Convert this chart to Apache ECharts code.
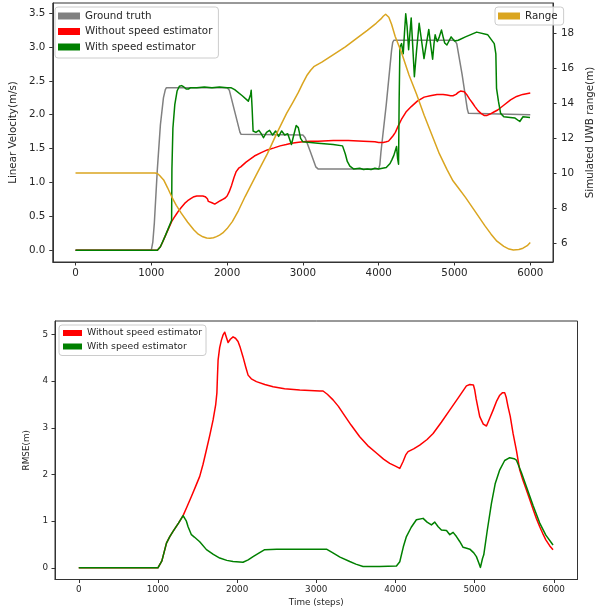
<!DOCTYPE html>
<html>
<head>
<meta charset="utf-8">
<script src="https://cdn.jsdelivr.net/npm/echarts@6/dist/echarts.min.js"></script>
<style>html,body{margin:0;padding:0;background:#fff}#c{width:603px;height:612px}</style>
</head>
<body>
<div id="c"></div>
<script>
// ---------- data ----------
const xTicks = [0, 1000, 2000, 3000, 4000, 5000, 6000];
const velTicks = [0, 0.5, 1, 1.5, 2, 2.5, 3, 3.5];
const rangeTicks = [6, 8, 10, 12, 14, 16, 18];
const rmseTicks = [0, 1, 2, 3, 4, 5];

// Top panel: linear velocity
const gtSteps = [0, 1000, 1020, 1040, 1080, 1120, 1160, 1185, 1200, 2000, 2015, 2030, 2100, 2170, 2185, 2200, 3000, 3015, 3030, 3100, 3170, 3185, 3200, 4000, 4015, 4030, 4100, 4170, 4185, 4200, 5000, 5015, 5030, 5100, 5170, 5185, 5200, 6000];
const gtVals  = [0, 0, 0.12, 0.4, 1.2, 1.85, 2.25, 2.37, 2.4, 2.4, 2.39, 2.36, 2.05, 1.74, 1.71, 1.7, 1.7, 1.69, 1.66, 1.45, 1.23, 1.21, 1.2, 1.2, 1.26, 1.45, 2.15, 2.95, 3.07, 3.1, 3.1, 3.09, 3.05, 2.6, 2.08, 2.02, 2.0, 2.0];

const noEstSteps = [0, 1080, 1100, 1120, 1150, 1180, 1220, 1268, 1300, 1330, 1360, 1395, 1440, 1480, 1520, 1563, 1600, 1640, 1680, 1711, 1730, 1740, 1753, 1770, 1800, 1837, 1860, 1879, 1910, 1943, 1975, 2000, 2027, 2060, 2090, 2120, 2153, 2180, 2200, 2250, 2300, 2360, 2450, 2530, 2620, 2700, 2780, 2850, 2920, 3000, 3100, 3200, 3400, 3600, 3800, 3950, 4000, 4060, 4100, 4130, 4160, 4190, 4220, 4260, 4300, 4360, 4430, 4510, 4600, 4680, 4770, 4850, 4900, 4950, 4980, 5020, 5050, 5080, 5100, 5130, 5160, 5200, 5240, 5270, 5310, 5350, 5390, 5430, 5470, 5520, 5570, 5650, 5740, 5820, 5900, 5950, 6000];
const noEstVals  = [0, 0, 0.02, 0.05, 0.12, 0.2, 0.3, 0.42, 0.48, 0.53, 0.58, 0.63, 0.69, 0.73, 0.76, 0.79, 0.8, 0.8, 0.8, 0.79, 0.78, 0.76, 0.72, 0.7, 0.7, 0.68, 0.69, 0.71, 0.73, 0.75, 0.77, 0.8, 0.86, 0.96, 1.07, 1.16, 1.21, 1.23, 1.25, 1.3, 1.34, 1.39, 1.44, 1.48, 1.51, 1.54, 1.56, 1.58, 1.59, 1.6, 1.61, 1.61, 1.62, 1.62, 1.61, 1.6, 1.59, 1.59, 1.6, 1.61, 1.65, 1.69, 1.74, 1.84, 1.93, 2.04, 2.12, 2.2, 2.26, 2.28, 2.3, 2.3, 2.29, 2.28, 2.28, 2.3, 2.33, 2.35, 2.35, 2.34, 2.3, 2.23, 2.17, 2.12, 2.06, 2.02, 1.99, 1.99, 2.01, 2.04, 2.07, 2.14, 2.22, 2.27, 2.3, 2.31, 2.32];

const withEstSteps = [0, 1080, 1120, 1180, 1268, 1272, 1285, 1310, 1340, 1370, 1400, 1430, 1460, 1490, 1520, 1600, 1700, 1800, 1900, 2000, 2050, 2100, 2200, 2280, 2300, 2310, 2318, 2330, 2343, 2380, 2420, 2450, 2480, 2520, 2560, 2600, 2640, 2680, 2720, 2760, 2800, 2849, 2880, 2912, 2940, 2970, 3000, 3200, 3400, 3523, 3560, 3586, 3620, 3668, 3750, 3800, 3850, 3900, 3950, 4000, 4050, 4100, 4150, 4172, 4200, 4236, 4250, 4262, 4270, 4280, 4302, 4324, 4340, 4357, 4375, 4395, 4412, 4429, 4450, 4471, 4500, 4534, 4565, 4598, 4630, 4661, 4690, 4712, 4730, 4745, 4760, 4775, 4800, 4829, 4850, 4871, 4900, 4956, 5000, 5050, 5145, 5293, 5440, 5525, 5546, 5555, 5580, 5609, 5651, 5736, 5799, 5862, 5904, 5997];
const withEstVals  = [0, 0, 0.05, 0.2, 0.44, 1.2, 1.8, 2.15, 2.35, 2.42, 2.43, 2.41, 2.38, 2.38, 2.4, 2.4, 2.41, 2.4, 2.41, 2.4, 2.4, 2.37, 2.28, 2.2, 2.19, 2.3, 2.36, 2.1, 1.76, 1.74, 1.77, 1.72, 1.66, 1.74, 1.77, 1.7, 1.76, 1.68, 1.76, 1.7, 1.72, 1.56, 1.7, 1.84, 1.81, 1.65, 1.6, 1.58, 1.56, 1.54, 1.42, 1.31, 1.24, 1.2, 1.21, 1.19, 1.2, 1.19, 1.21, 1.2, 1.21, 1.22, 1.28, 1.33, 1.4, 1.53, 1.35, 1.27, 2.2, 3.0, 3.05, 2.9, 3.2, 3.49, 3.3, 2.96, 3.2, 3.43, 3.0, 2.56, 2.95, 3.35, 3.1, 2.83, 3.05, 3.26, 3.0, 2.82, 3.05, 3.18, 3.12, 3.08, 3.15, 3.25, 3.15, 3.06, 3.03, 3.15, 3.09, 3.1, 3.15, 3.22, 3.18, 3.05, 2.9, 2.39, 2.2, 2.02, 1.97, 1.96, 1.95, 1.9, 1.97, 1.96];

const rangeSteps = [0, 1050, 1080, 1110, 1163, 1215, 1268, 1330, 1395, 1480, 1563, 1620, 1680, 1730, 1774, 1820, 1860, 1900, 1943, 2000, 2069, 2150, 2238, 2380, 2532, 2660, 2785, 2870, 2940, 2996, 3050, 3100, 3144, 3250, 3418, 3560, 3713, 3850, 3966, 4030, 4060, 4092, 4110, 4134, 4170, 4218, 4300, 4400, 4500, 4600, 4700, 4800, 4900, 4980, 5050, 5145, 5272, 5398, 5483, 5560, 5651, 5720, 5777, 5850, 5904, 5960, 6000];
const rangeVals  = [10.0, 10.0, 9.97, 9.85, 9.6, 9.15, 8.65, 8.15, 7.7, 7.18, 6.74, 6.5, 6.35, 6.28, 6.27, 6.3, 6.36, 6.45, 6.57, 6.82, 7.22, 7.85, 8.65, 9.85, 11.1, 12.3, 13.4, 14.05, 14.6, 15.1, 15.55, 15.85, 16.07, 16.33, 16.8, 17.2, 17.7, 18.15, 18.55, 18.8, 18.95, 19.07, 19.04, 18.9, 18.5, 17.8, 16.9, 15.6, 14.5, 13.3, 12.2, 11.1, 10.2, 9.55, 9.15, 8.6, 7.8, 7.0, 6.5, 6.1, 5.8, 5.65, 5.6, 5.62, 5.7, 5.84, 6.02];

// Bottom panel: RMSE
const rmseNoSteps = [0, 1000, 1050, 1108, 1150, 1191, 1260, 1318, 1370, 1423, 1475, 1528, 1570, 1613, 1655, 1697, 1730, 1745, 1752, 1760, 1780, 1802, 1825, 1844, 1865, 1886, 1915, 1949, 1980, 2012, 2040, 2075, 2110, 2139, 2180, 2244, 2350, 2455, 2600, 2792, 3044, 3086, 3140, 3212, 3280, 3339, 3440, 3549, 3650, 3760, 3850, 3928, 4000, 4055, 4075, 4097, 4130, 4160, 4230, 4307, 4400, 4476, 4580, 4686, 4800, 4897, 4940, 4960, 4985, 5002, 5020, 5040, 5065, 5110, 5150, 5190, 5234, 5280, 5318, 5350, 5381, 5400, 5423, 5450, 5486, 5530, 5570, 5610, 5655, 5700, 5740, 5780, 5823, 5860, 5900, 5950, 5991];
const rmseNoVals  = [0, 0, 0.15, 0.53, 0.67, 0.78, 0.96, 1.12, 1.32, 1.53, 1.74, 1.96, 2.22, 2.53, 2.84, 3.17, 3.5, 3.75, 4.1, 4.45, 4.72, 4.88, 5.0, 5.05, 5.03, 4.83, 4.9, 4.95, 4.92, 4.85, 4.72, 4.52, 4.3, 4.13, 4.05, 3.99, 3.93, 3.88, 3.84, 3.81, 3.79, 3.79, 3.72, 3.6, 3.46, 3.31, 3.06, 2.81, 2.62, 2.46, 2.33, 2.24, 2.18, 2.13, 2.14, 2.28, 2.42, 2.49, 2.55, 2.63, 2.75, 2.88, 3.12, 3.38, 3.66, 3.9, 3.93, 3.95, 3.92, 3.81, 3.62, 3.45, 3.24, 3.08, 3.04, 3.2, 3.38, 3.58, 3.7, 3.75, 3.75, 3.65, 3.45, 3.25, 2.88, 2.5, 2.1, 1.88, 1.67, 1.45, 1.25, 1.06, 0.88, 0.74, 0.6, 0.47, 0.39];

const rmseWithSteps = [0, 1000, 1050, 1108, 1150, 1191, 1260, 1318, 1335, 1360, 1381, 1423, 1460, 1528, 1613, 1700, 1781, 1870, 1949, 2075, 2140, 2202, 2280, 2349, 2500, 2800, 3129, 3200, 3300, 3423, 3500, 3591, 3800, 4013, 4055, 4100, 4139, 4200, 4265, 4350, 4400, 4455, 4497, 4540, 4581, 4645, 4687, 4729, 4771, 4810, 4855, 4900, 4940, 4990, 5023, 5050, 5074, 5100, 5116, 5160, 5213, 5260, 5318, 5380, 5444, 5500, 5528, 5590, 5655, 5740, 5823, 5900, 5991];
const rmseWithVals  = [0, 0, 0.15, 0.53, 0.67, 0.78, 0.96, 1.12, 1.14, 1.0, 0.88, 0.71, 0.66, 0.56, 0.39, 0.29, 0.21, 0.16, 0.135, 0.12, 0.17, 0.24, 0.32, 0.39, 0.4, 0.4, 0.4, 0.33, 0.23, 0.135, 0.08, 0.03, 0.03, 0.04, 0.13, 0.45, 0.67, 0.87, 1.03, 1.06, 0.98, 0.92, 0.98, 0.88, 0.81, 0.8, 0.71, 0.76, 0.67, 0.57, 0.44, 0.42, 0.4, 0.32, 0.24, 0.12, 0.01, 0.2, 0.28, 0.8, 1.38, 1.8, 2.1, 2.3, 2.36, 2.34, 2.31, 2.05, 1.74, 1.33, 0.96, 0.7, 0.49];

// ---------- chart ----------
const zip = (a, b) => a.map((x, i) => [x, b[i]]);
const FONT = 'DejaVu Sans';
const TXT = '#262626';
const AX = '#333';

function xAxisCfg(grid, fs, margin, name, nameGap) {
  return {
    type: 'value', gridIndex: grid, min: -300, max: 6300,
    name: name, nameLocation: 'middle', nameGap: nameGap,
    nameTextStyle: { color: TXT, fontFamily: FONT, fontSize: fs },
    axisLine: { show: true, onZero: false, lineStyle: { color: AX, width: 1 } },
    axisTick: { show: true, length: 3.5, customValues: xTicks, lineStyle: { color: AX } },
    axisLabel: { customValues: xTicks, margin: margin, color: TXT, fontFamily: FONT, fontSize: fs, formatter: v => String(v) },
    splitLine: { show: false }
  };
}
function yAxisCfg(grid, pos, min, max, ticks, fs, margin, name, nameGap, fmt) {
  return {
    type: 'value', gridIndex: grid, position: pos, min: min, max: max,
    name: name, nameLocation: 'middle', nameGap: nameGap, nameRotate: 90,
    nameTextStyle: { color: TXT, fontFamily: FONT, fontSize: fs },
    axisLine: { show: true, onZero: false, lineStyle: { color: AX, width: 1 } },
    axisTick: { show: true, length: 3.5, customValues: ticks, lineStyle: { color: AX } },
    axisLabel: { customValues: ticks, margin: margin, color: TXT, fontFamily: FONT, fontSize: fs, formatter: fmt },
    splitLine: { show: false }
  };
}
const lineS = (name, data, color, xi, yi, z) => ({
  name: name, type: 'line', xAxisIndex: xi, yAxisIndex: yi, data: data,
  showSymbol: false, symbol: 'none', smooth: false,
  lineStyle: { color: color, width: 1.5, join: 'round' }, itemStyle: { color: color },
  animation: false, z: z
});
const legendBase = {
  orient: 'vertical', icon: 'rect', itemWidth: 22, itemHeight: 7,
  backgroundColor: 'rgba(255,255,255,0.8)', borderColor: '#cccccc', borderWidth: 1, borderRadius: 3,
  selectedMode: false
};

const chart = echarts.init(document.getElementById('c'), null, { renderer: 'canvas' });
chart.setOption({
  animation: false,
  backgroundColor: '#fff',
  grid: [
    { left: 49, top: 3, width: 522, height: 259, show: true, borderColor: AX, borderWidth: 1, backgroundColor: 'transparent' },
    { left: 55, top: 321, width: 522.5, height: 258.5, show: true, borderColor: AX, borderWidth: 1, backgroundColor: 'transparent' }
  ],
  xAxis: [
    xAxisCfg(0, 10.3, 6.5, '', 0),
    xAxisCfg(1, 8.8, 6, 'Time (steps)', 19)
  ],
  yAxis: [
    yAxisCfg(0, 'left', -0.175, 3.65, velTicks, 10.3, 7.5, 'Linear Velocity(m/s)', 29, v => v.toFixed(1)),
    yAxisCfg(0, 'right', 4.91, 19.71, rangeTicks, 10.3, 8, 'Simulated UWB range(m)', 22, v => String(v)),
    yAxisCfg(1, 'left', -0.25, 5.29, rmseTicks, 8.8, 7, 'RMSE(m)', 17, v => String(v))
  ],
  legend: [
    Object.assign({}, legendBase, {
      left: 55, top: 7, padding: [4, 6, 6, 3], itemGap: 5.5,
      data: ['Ground truth', 'Without speed estimator', 'With speed estimator'],
      textStyle: { color: TXT, fontFamily: FONT, fontSize: 10.3 }
    }),
    Object.assign({}, legendBase, {
      left: 495, top: 7, padding: [4, 6, 4, 3],
      data: ['Range'],
      textStyle: { color: TXT, fontFamily: FONT, fontSize: 10.3 }
    }),
    Object.assign({}, legendBase, {
      left: 59, top: 325, padding: [3.5, 4, 4.5, 4], itemGap: 4.5, itemWidth: 19, itemHeight: 6,
      data: ['Without speed estimator', 'With speed estimator'],
      textStyle: { color: TXT, fontFamily: FONT, fontSize: 9.3 }
    })
  ],
  series: [
    lineS('Ground truth', zip(gtSteps, gtVals), '#808080', 0, 0, 2),
    lineS('Without speed estimator', zip(noEstSteps, noEstVals), '#ff0000', 0, 0, 3),
    lineS('With speed estimator', zip(withEstSteps, withEstVals), '#008000', 0, 0, 4),
    lineS('Range', zip(rangeSteps, rangeVals), '#daa520', 0, 1, 5),
    lineS('Without speed estimator', zip(rmseNoSteps, rmseNoVals), '#ff0000', 1, 2, 3),
    lineS('With speed estimator', zip(rmseWithSteps, rmseWithVals), '#008000', 1, 2, 4)
  ]
});
</script>
</body>
</html>
